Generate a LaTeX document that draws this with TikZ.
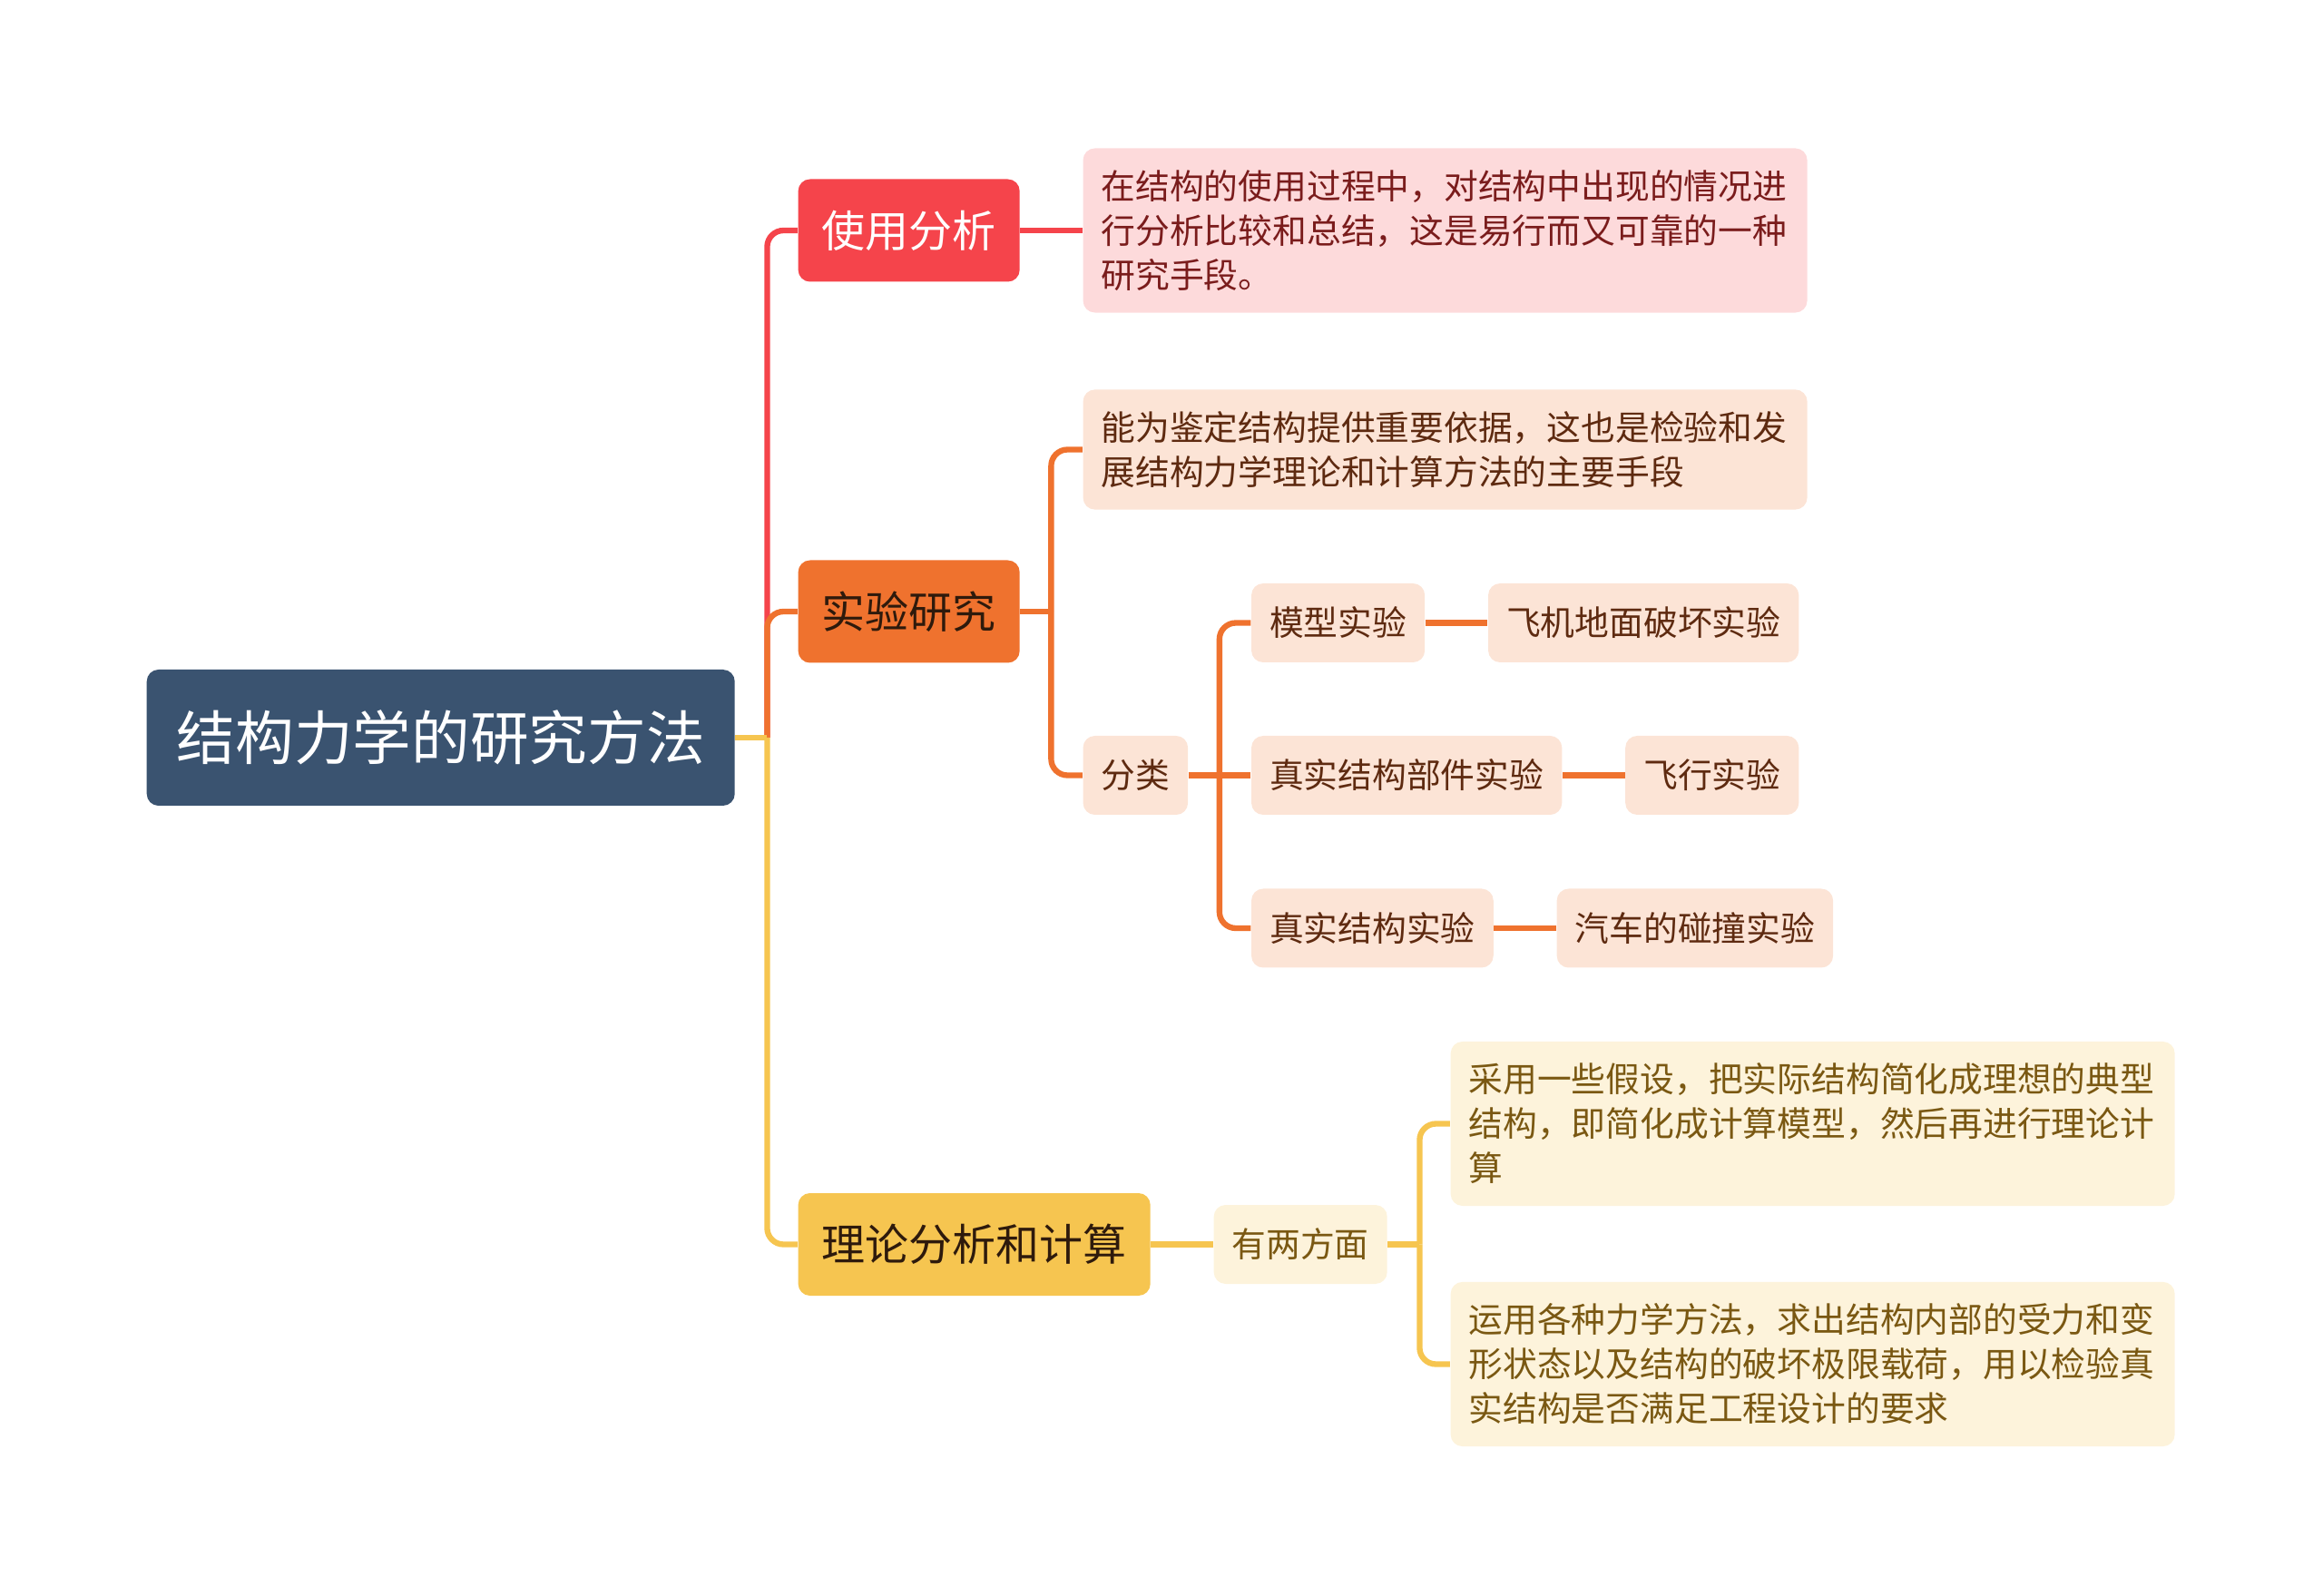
\documentclass[tikz,border=0pt]{standalone}
\usepackage{fontspec}
\newfontfamily\cjk{Noto Sans CJK SC}
\usepackage{tikz}
\usetikzlibrary{positioning}
\definecolor{rootblue}{HTML}{3A5370}
\definecolor{redmain}{HTML}{F5444B}
\definecolor{orangemain}{HTML}{EF722E}
\definecolor{yellowmain}{HTML}{F6C550}
\definecolor{redbg}{HTML}{FDDADB}
\definecolor{orangebg}{HTML}{FCE4D6}
\definecolor{yellowbg}{HTML}{FDF3DB}
\definecolor{redtext}{HTML}{7A1C1C}
\definecolor{browntext}{HTML}{5E2A10}
\definecolor{olivetext}{HTML}{7A5812}
\definecolor{darktext}{HTML}{2E1A0C}
\tikzset{
  every node/.style={font=\cjk},
  box/.style={rounded corners=1.3mm,align=center,inner ysep=0pt},
  rootbox/.style={box,fill=rootblue,text=white,font=\cjk\fontsize{18.4}{22}\selectfont,inner xsep=3.3mm,minimum height=15mm},
  topic/.style={box,font=\cjk\fontsize{13.66}{16}\selectfont,inner xsep=2.6mm,minimum height=11.3mm},
  sub/.style={box,font=\cjk\fontsize{10.75}{13.94}\selectfont,inner xsep=2mm,minimum height=8.7mm},
  desc/.style={sub,align=left,text width=7.58cm,inner ysep=2.4mm},
  redsub/.style={sub,fill=redbg,text=redtext},
  orangesub/.style={sub,fill=orangebg,text=browntext},
  yellowsub/.style={sub,fill=yellowbg,text=olivetext},
  link/.style={line width=1.8pt,rounded corners=1.8mm},
  redlink/.style={link,draw=redmain},
  orangelink/.style={link,draw=orangemain},
  yellowlink/.style={link,draw=yellowmain}
}
\begin{document}
\begin{tikzpicture}[node distance=6.85mm]
  \useasboundingbox (0,0) rectangle (25.6,-17.59);
  \node[rootbox,anchor=west] (root) at (1.61,-8.13) {结构力学的研究方法};

  \node[topic,fill=redmain,text=white,right=of root,yshift=5.59cm] (use) {使用分析};
  \node[topic,fill=orangemain,text=darktext,right=of root,yshift=1.39cm] (exp) {实验研究};
  \node[topic,fill=yellowmain,text=darktext,right=of root,yshift=-5.585cm] (theo) {理论分析和计算};

  \node[desc,fill=redbg,text=redtext,right=of use] (usedesc) {在结构的使用过程中，对结构中出现的情况进\\行分析比较和总结，这是易行而又可靠的一种\\研究手段。};

  \node[desc,fill=orangebg,text=browntext,right=of exp,yshift=1.785cm] (expdesc) {能为鉴定结构提供重要依据，这也是检验和发\\展结构力学理论和计算方法的主要手段};
  \node[orangesub,right=of exp,yshift=-1.805cm] (kind) {分类};
  \node[orangesub,right=of kind,yshift=1.68cm] (model) {模型实验};
  \node[orangesub,right=of model] (plane) {飞机地面破坏实验};
  \node[orangesub,right=of kind] (part) {真实结构部件实验};
  \node[orangesub,right=of part] (flight) {飞行实验};
  \node[orangesub,right=of kind,yshift=-1.685cm] (real) {真实结构实验};
  \node[orangesub,right=of real] (car) {汽车的碰撞实验};

  \node[yellowsub,right=of theo] (two) {有两方面};
  \node[desc,fill=yellowbg,text=olivetext,right=of two,yshift=1.33cm] (theodescA) {采用一些假设，把实际结构简化成理想的典型\\结构，即简化成计算模型，然后再进行理论计\\算};
  \node[desc,fill=yellowbg,text=olivetext,right=of two,yshift=-1.32cm] (theodescB) {运用各种力学方法，求出结构内部的受力和变\\形状态以及结构的破坏极限载荷，用以检验真\\实结构是否满足工程设计的要求};

  % forks
  \path (root.east) -- ++(3.5mm,0) coordinate (rootfork);
  \path (exp.east) -- ++(3.4mm,0) coordinate (expfork);
  \path (kind.east) -- ++(3.4mm,0) coordinate (kindfork);
  \path (two.east) -- ++(3.5mm,0) coordinate (twofork);

  \draw[redlink] (rootfork) |- (use.west);
  \draw[redlink] (use) -- (usedesc);

  \draw[orangelink] (rootfork) |- (exp.west);
  \draw[orangelink] (exp.east) -- (expfork);
  \draw[orangelink] (expfork) |- (expdesc.west);
  \draw[orangelink] (expfork) |- (kind.west);
  \draw[orangelink] (kind.east) -- (kindfork);
  \draw[orangelink] (kindfork) |- (model.west);
  \draw[orangelink] (kindfork) -- (part.west);
  \draw[orangelink] (kindfork) |- (real.west);
  \draw[orangelink] (model) -- (plane);
  \draw[orangelink] (part) -- (flight);
  \draw[orangelink] (real) -- (car);

  \draw[yellowlink] (rootfork) |- (theo.west);
  \draw[yellowlink] (root.east) -- (rootfork);
  \draw[yellowlink] (theo) -- (two);
  \draw[yellowlink] (two.east) -- (twofork);
  \draw[yellowlink] (twofork) |- (theodescA.west);
  \draw[yellowlink] (twofork) |- (theodescB.west);
\end{tikzpicture}
\end{document}
